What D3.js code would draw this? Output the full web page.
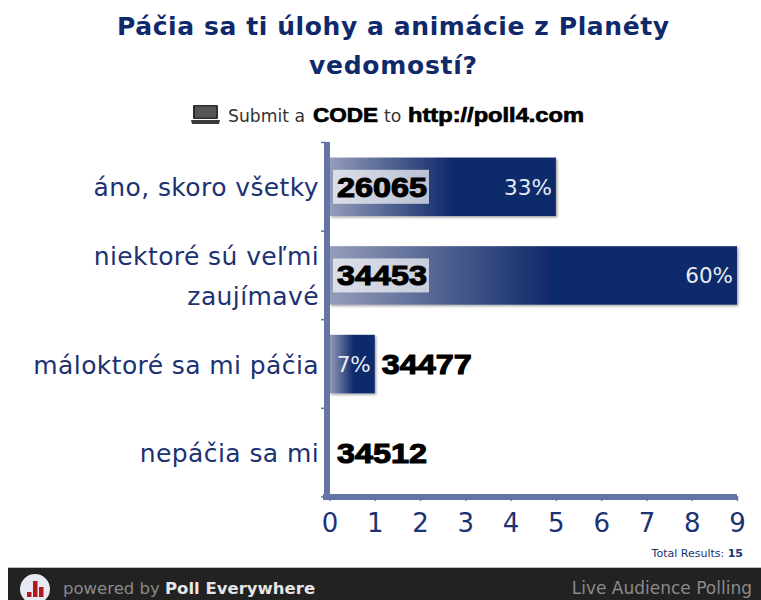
<!DOCTYPE html>
<html><head><meta charset="utf-8">
<style>html,body{margin:0;padding:0;background:#fff}svg{display:block}text{font-family:"DejaVu Sans",sans-serif}</style>
<script src="https://cdn.jsdelivr.net/npm/d3@7"></script></head>
<body><svg id="c" width="761" height="600"></svg>
<script>
const titleLines = ["Páčia sa ti úlohy a animácie z Planéty", "vedomostí?"];
const categories = ["áno, skoro všetky", "niektoré sú veľmi|zaujímavé", "máloktoré sa mi páčia", "nepáčia sa mi"];
const counts = [5, 9, 1, 0];
const percents = ["33%", "60%", "7%", ""];
const codes = ["26065", "34453", "34477", "34512"];
const xTicks = [0,1,2,3,4,5,6,7,8,9];
const navy = "#10296b", labelCol = "#1c3272", axisCol = "#6474a5";
const heavy = "'Liberation Sans',sans-serif";

const svg = d3.select("#c");
const x = d3.scaleLinear().domain([0,9]).range([329.5,737]);
const y = d3.scaleBand().domain(categories).range([142.5,497]).paddingInner(0.34).paddingOuter(0.17);
const bottom = 497;

const defs = svg.append("defs");
const g = defs.append("linearGradient").attr("id","barGrad");
g.append("stop").attr("offset",0).attr("stop-color","#949db9");
g.append("stop").attr("offset",0.54).attr("stop-color",navy);
g.append("stop").attr("offset",1).attr("stop-color",navy);
const f = defs.append("filter").attr("id","sh").attr("x","-5%").attr("y","-10%").attr("width","112%").attr("height","125%");
f.append("feDropShadow").attr("dx",1.5).attr("dy",1.5).attr("stdDeviation",1.2).attr("flood-color","#000").attr("flood-opacity",0.35);

// title
svg.append("g").selectAll("text").data(titleLines).join("text")
  .attr("x",393).attr("y",(d,i)=>35+i*39).attr("text-anchor","middle")
  .attr("font-size",25).attr("font-weight",700).attr("fill",navy)
  .attr("textLength",(d,i)=>i===0?552:168).attr("lengthAdjust","spacing").text(d=>d);

// submit line
const lap = svg.append("g").attr("transform","translate(191,105)");
lap.append("rect").attr("x",2).attr("y",0).attr("width",25).attr("height",14).attr("rx",1).attr("fill","#2e2e2e");
lap.append("rect").attr("x",4).attr("y",1.5).attr("width",21).attr("height",11).attr("fill","#555");
lap.append("path").attr("d","M0 15H29L28 19H1Z").attr("fill","#3a3a3a");
svg.append("text").attr("x",228).attr("y",122).attr("font-size",17.2).attr("fill","#333").text("Submit a");
svg.append("text").attr("x",384).attr("y",122).attr("font-size",17.2).attr("fill","#333").text("to");
[["CODE",313,65],["http://poll4.com",408,176]].forEach(([t,px,w])=>{
  svg.append("text").attr("x",px).attr("y",122).style("font-family",heavy).attr("font-weight",700)
    .attr("font-size",20).attr("fill","#000").attr("stroke","#000").attr("stroke-width",0.7)
    .attr("textLength",w).attr("lengthAdjust","spacingAndGlyphs").text(t);
});

// bars
svg.append("g").selectAll("rect").data(categories).join("rect")
  .attr("x",x(0)).attr("y",d=>y(d)).attr("height",y.bandwidth())
  .attr("width",(d,i)=>x(counts[i])-x(0))
  .attr("fill","url(#barGrad)")
  .attr("filter",(d,i)=>counts[i]>0?"url(#sh)":null);

// axes
const axX = d3.axisBottom(x).tickValues(xTicks).tickSize(5).tickPadding(13);
const gx = svg.append("g").attr("transform",`translate(0,${bottom-1})`).call(axX);
gx.select(".domain").remove();
gx.selectAll("line").attr("stroke",axisCol).attr("stroke-width",1.5);
gx.selectAll("text").style("font-family","'DejaVu Sans',sans-serif").attr("font-size",26).attr("fill",labelCol);
const yTickVals = d3.range(5).map(i=>142.5+i*88.6);
svg.append("g").selectAll("line").data(yTickVals).join("line")
  .attr("x1",321).attr("x2",326).attr("y1",d=>d).attr("y2",d=>d)
  .attr("stroke",axisCol).attr("stroke-width",1.5);
svg.append("rect").attr("x",324).attr("y",142).attr("width",6).attr("height",bottom-142).attr("fill",axisCol);
svg.append("rect").attr("x",323).attr("y",bottom-3).attr("width",x(9)-323).attr("height",6).attr("fill",axisCol);

// category labels
categories.forEach(c=>{
  const ls=c.split("|"), cy=y(c)+y.bandwidth()/2;
  ls.forEach((l,i)=>{
    svg.append("text").attr("x",319).attr("y",cy+9.5+(i-(ls.length-1)/2)*40)
      .attr("text-anchor","end").attr("font-size",25).attr("letter-spacing",0.4).attr("fill",labelCol).text(l);
  });
});

// percents
categories.forEach((c,i)=>{
  if(!percents[i])return;
  svg.append("text").attr("x",x(counts[i])-4).attr("y",y(c)+y.bandwidth()/2+8)
    .attr("text-anchor","end").attr("font-size",21.5).attr("fill","#e8ebf3").text(percents[i]);
});

// codes
categories.forEach((c,i)=>{
  const cy=y(c)+y.bandwidth()/2, inside=counts[i]>=5;
  const tx=counts[i]>=5?337:(counts[i]>0?x(counts[i])+7:337);
  if(inside) svg.append("rect").attr("x",333).attr("y",cy-17).attr("width",96).attr("height",34).attr("fill","#fff").attr("opacity",0.68);
  svg.append("text").attr("x",tx).attr("y",cy+10).style("font-family",heavy)
    .attr("font-size",28).attr("font-weight",700).attr("fill","#000").attr("stroke","#000").attr("stroke-width",1.1)
    .attr("textLength",90).attr("lengthAdjust","spacingAndGlyphs").text(codes[i]);
});

// total
const tot=svg.append("text").attr("x",743).attr("y",557).attr("text-anchor","end").attr("font-size",11).attr("fill",labelCol);
tot.append("tspan").text("Total Results: ");
tot.append("tspan").attr("font-weight",700).text("15");

// footer
svg.append("rect").attr("x",8).attr("y",568).attr("width",753).attr("height",32).attr("fill","#222");
svg.append("rect").attr("x",8).attr("y",567).attr("width",753).attr("height",1).attr("fill","#bbb");
svg.append("circle").attr("cx",35).attr("cy",589).attr("r",15).attr("fill","#e6e8f2");
const logoVals=[5,16,10];
svg.append("g").selectAll("rect").data(logoVals).join("rect")
  .attr("x",(d,i)=>27+i*6).attr("y",d=>597-d).attr("width",4.5).attr("height",d=>d).attr("fill","#b3161c");
const pw=svg.append("text").attr("x",63).attr("y",594).attr("font-size",16.5).attr("fill","#8a8a8a");
pw.append("tspan").text("powered by ");
pw.append("tspan").attr("font-weight",700).attr("fill","#e6e6e6").text("Poll Everywhere");
svg.append("text").attr("x",752).attr("y",594).attr("text-anchor","end").attr("font-size",17).attr("fill","#8a8a8a").text("Live Audience Polling");
</script></body></html>
